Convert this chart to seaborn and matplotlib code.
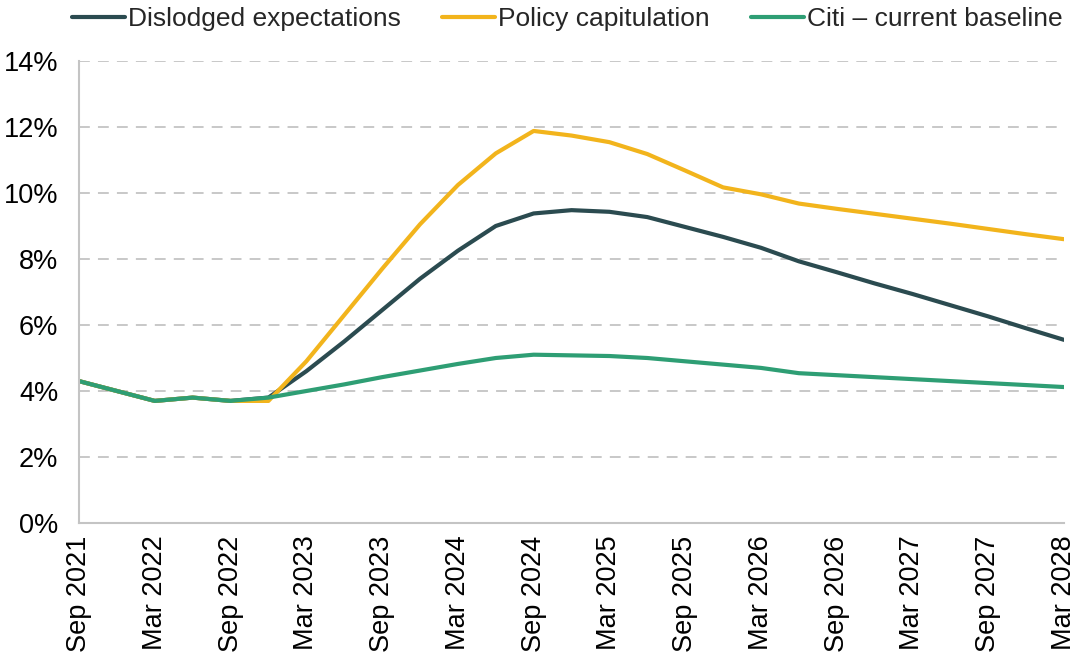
import numpy as np
import pandas as pd
import matplotlib
matplotlib.use("Agg")
import matplotlib.pyplot as plt
import seaborn as sns

# Quarterly inflation paths, Sep 2021 - Mar 2028 (%)
quarters = ["Sep 2021", "Dec 2021", "Mar 2022", "Jun 2022", "Sep 2022", "Dec 2022",
            "Mar 2023", "Jun 2023", "Sep 2023", "Dec 2023", "Mar 2024", "Jun 2024",
            "Sep 2024", "Dec 2024", "Mar 2025", "Jun 2025", "Sep 2025", "Dec 2025",
            "Mar 2026", "Jun 2026", "Sep 2026", "Dec 2026", "Mar 2027", "Jun 2027",
            "Sep 2027", "Dec 2027", "Mar 2028"]

dislodged = [4.3, 4.0, 3.7, 3.8, 3.7, 3.8, 4.6, 5.5, 6.45, 7.4, 8.25, 9.0, 9.38,
             9.48, 9.43, 9.27, 8.97, 8.67, 8.34, 7.93, 7.6, 7.26, 6.94, 6.6, 6.26,
             5.9, 5.55]
capitulation = [4.3, 4.0, 3.7, 3.8, 3.7, 3.7, 4.9, 6.3, 7.7, 9.05, 10.24, 11.2, 11.88,
                11.74, 11.54, 11.18, 10.68, 10.17, 9.96, 9.68, 9.52, 9.37, 9.22, 9.07,
                8.91, 8.75, 8.6]
baseline = [4.3, 4.0, 3.7, 3.8, 3.7, 3.8, 4.0, 4.2, 4.42, 4.62, 4.82, 5.0, 5.1,
            5.08, 5.06, 5.0, 4.9, 4.8, 4.7, 4.54, 4.48, 4.42, 4.36, 4.3, 4.24, 4.18,
            4.12]

series_names = ["Dislodged expectations", "Policy capitulation", "Citi \u2013 current baseline"]
colors = ["#2b4b50", "#f2b41c", "#2e9e74"]

df = pd.DataFrame({
    "q": np.tile(np.arange(len(quarters)), 3),
    "value": dislodged + capitulation + baseline,
    "series": np.repeat(series_names, len(quarters)),
})

sns.set_theme(style="white")
plt.rcParams["font.family"] = ["Liberation Sans", "DejaVu Sans"]

fig = plt.figure(figsize=(10.75, 6.55), dpi=100)
ax = fig.add_axes([0.0735, 0.2015, 0.9163, 0.7054])

sns.lineplot(data=df, x="q", y="value", hue="series", hue_order=series_names,
             palette=colors, linewidth=3.0, ax=ax, legend=False)

grid_col = "#c4c4c4"
tick_fs = 19.5
ax.set_ylim(0, 14)
ax.set_xlim(0, len(quarters) - 1)
ax.set_yticks(range(0, 15, 2))
ax.set_yticklabels([f"{v}%" for v in range(0, 15, 2)], fontsize=tick_fs)
ax.set_xticks(range(len(quarters)))
ax.set_xticklabels([q if i % 2 == 0 else "" for i, q in enumerate(quarters)],
                   rotation=90, fontsize=tick_fs)
ax.yaxis.grid(True, color=grid_col, linestyle=(0, (6, 4.5)), linewidth=1.3)
ax.xaxis.grid(False)
ax.set_xlabel("")
ax.set_ylabel("")
for side in ["top", "right"]:
    ax.spines[side].set_visible(False)
for side in ["left", "bottom"]:
    ax.spines[side].set_color(grid_col)
    ax.spines[side].set_linewidth(1.5)
ax.tick_params(axis="both", which="major", length=6, width=1.3, direction="out",
               color=grid_col, labelcolor="black")
ax.tick_params(axis="y", pad=9)
ax.tick_params(axis="x", pad=3)

handles = [plt.Line2D([], [], color=c, linewidth=3.0) for c in colors]
fig.legend(handles, series_names, loc="upper center", bbox_to_anchor=(0.5277, 1.025),
           ncol=3, frameon=False, fontsize=19, handlelength=2.0, handletextpad=0.12,
           columnspacing=1.56)

fig.savefig("out.png", dpi=100)
